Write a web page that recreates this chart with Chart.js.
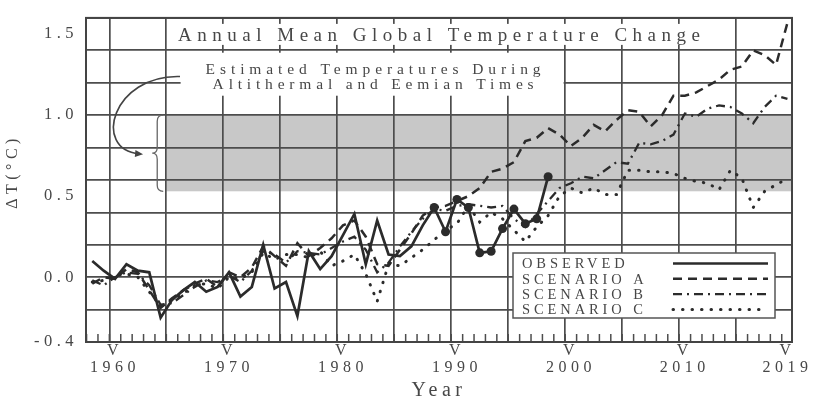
<!DOCTYPE html>
<html>
<head>
<meta charset="utf-8">
<title>Annual Mean Global Temperature Change</title>
<script src="https://cdn.jsdelivr.net/npm/chart.js@4.4.1/dist/chart.umd.min.js"></script>
<style>
  html, body { margin: 0; padding: 0; background: #fff; }
  canvas { display: block; }
</style>
</head>
<body>
<canvas id="chartCanvas" width="819" height="398"></canvas>
<script>
// ------------------------------------------------------------------
// Annual Mean Global Temperature Change - observed vs. scenario A/B/C
// ------------------------------------------------------------------

// DATA
var obsYears = [1958, 1959, 1960, 1961, 1962, 1963, 1964, 1965, 1966, 1967,
                1968, 1969, 1970, 1971, 1972, 1973, 1974, 1975, 1976, 1977,
                1978, 1979, 1980, 1981, 1982, 1983, 1984, 1985, 1986, 1987,
                1988, 1989, 1990, 1991, 1992, 1993, 1994, 1995, 1996, 1997,
                1998]
var observed = [0.10, 0.04, -0.01, 0.08, 0.04, 0.03, -0.25, -0.14, -0.08, -0.03,
                -0.09, -0.06, 0.03, -0.12, -0.06, 0.20, -0.07, -0.03, -0.24, 0.16,
                0.05, 0.13, 0.26, 0.39, 0.08, 0.35, 0.14, 0.13, 0.19, 0.32,
                0.43, 0.28, 0.48, 0.43, 0.15, 0.16, 0.30, 0.42, 0.33, 0.36,
                0.62]
var firstDotYear = 1988   // observed years from here on get a big dot

var scenYears = [1958, 1959, 1960, 1961, 1962, 1963, 1964, 1965, 1966, 1967,
                 1968, 1969, 1970, 1971, 1972, 1973, 1974, 1975, 1976, 1977,
                 1978, 1979, 1980, 1981, 1982, 1983, 1984, 1985, 1986, 1987,
                 1988, 1989, 1990, 1991, 1992, 1993, 1994, 1995, 1996, 1997,
                 1998, 1999, 2000, 2001, 2002, 2003, 2004, 2005, 2006, 2007,
                 2008, 2009, 2010, 2011, 2012, 2013, 2014, 2015, 2016, 2017,
                 2018, 2019]
var scenarioA = [-0.04, 0.00, -0.01, 0.05, 0.03, -0.08, -0.19, -0.13, -0.08, -0.04,
                 -0.01, -0.06, 0.03, 0.00, 0.06, 0.19, 0.13, 0.07, 0.21, 0.13,
                 0.18, 0.24, 0.32, 0.35, 0.25, 0.08, 0.07, 0.17, 0.27, 0.38,
                 0.43, 0.44, 0.47, 0.50, 0.55, 0.65, 0.67, 0.71, 0.84, 0.86,
                 0.92, 0.88, 0.81, 0.86, 0.94, 0.90, 0.97, 1.03, 1.02, 0.93,
                 1.00, 1.12, 1.12, 1.14, 1.18, 1.22, 1.28, 1.30, 1.40, 1.37,
                 1.31, 1.57]
var scenarioB = [-0.02, -0.05, 0.00, 0.03, 0.02, -0.05, -0.17, -0.16, -0.11, -0.06,
                 -0.02, -0.03, 0.01, -0.03, 0.04, 0.16, 0.14, 0.09, 0.16, 0.15,
                 0.14, 0.18, 0.22, 0.25, 0.17, 0.03, 0.09, 0.19, 0.28, 0.36,
                 0.42, 0.41, 0.44, 0.45, 0.44, 0.43, 0.44, 0.36, 0.31, 0.39,
                 0.47, 0.55, 0.58, 0.62, 0.61, 0.66, 0.71, 0.70, 0.83, 0.82,
                 0.84, 0.88, 1.01, 0.99, 1.04, 1.06, 1.05, 1.01, 0.95, 1.05,
                 1.12, 1.10]
var scenarioC = [-0.03, -0.02, 0.01, 0.02, 0.00, -0.09, -0.18, -0.14, -0.10, -0.05,
                 -0.04, -0.07, 0.00, -0.01, 0.03, 0.15, 0.11, 0.14, 0.14, 0.12,
                 0.16, 0.07, 0.10, 0.14, 0.02, -0.15, 0.08, 0.07, 0.12, 0.17,
                 0.23, 0.29, 0.33, 0.44, 0.34, 0.40, 0.36, 0.29, 0.22, 0.31,
                 0.38, 0.50, 0.55, 0.52, 0.55, 0.51, 0.51, 0.66, 0.66, 0.65,
                 0.65, 0.64, 0.61, 0.59, 0.58, 0.54, 0.66, 0.61, 0.43, 0.53,
                 0.57, 0.61]

// shaded range: estimated temperatures during Altithermal and Eemian times
var bandFromYear = 1964.5
var bandLow = 0.53
var bandHigh = 1.0

// AXES
var xLabelYears = [1960, 1970, 1980, 1990, 2000, 2010, 2019]
var xGridYears = [1959.5, 1964.5, 1969.5, 1974.5, 1979.5, 1984.5,
                  1989.5, 1994.5, 1999.5, 2004.5, 2009.5, 2014.5]
var yTickValues = [-0.4, -0.2, 0, 0.2, 0.4, 0.5, 0.6, 0.8, 1.0, 1.2, 1.4, 1.5, 1.6]
var yGridValues = [-0.4, -0.2, 0, 0.2, 0.4, 0.6, 0.8, 1.0, 1.2, 1.4, 1.6]
var yLabelValues = [-0.4, 0, 0.5, 1.0, 1.5]
var yLabelText = ['-0.4', '0.0', '0.5', '1.0', '1.5']

// TEXTS
var mainTitle = 'Annual Mean Global Temperature Change'
var noteLine1 = 'Estimated Temperatures During'
var noteLine2 = 'Altithermal and Eemian Times'

// STYLE
var serif = "'Liberation Serif', 'Times New Roman', serif"
var textColor = '#474747'
var gridColor = '#4d4d4d'
var lineColor = '#2b2b2b'
var noteColor = '#666'

// draws text stretched (by letter spacing) to a given width
function spacedText(ctx, text, left, baseline, width) {
    ctx.letterSpacing = '0px'
    var w = ctx.measureText(text).width
    var s = (width - w) / (text.length - 1)
    ctx.letterSpacing = s + 'px'
    ctx.textAlign = 'left'
    ctx.textBaseline = 'alphabetic'
    ctx.fillText(text, left, baseline)
}

// all chart.js text gets the wide typewriter-like spacing of the original
var spacingPlugin = {
    id: 'spacing',
    beforeUpdate: function (chart) { chart.ctx.letterSpacing = '4.5px' },
    beforeDraw: function (chart) { chart.ctx.letterSpacing = '4.5px' }
}

var decorPlugin = {
    id: 'decor',
    // gray band below the grid
    beforeDraw: function (chart) {
        var ctx = chart.ctx, xs = chart.scales.x, ys = chart.scales.y
        var a = chart.chartArea
        ctx.save()
        ctx.fillStyle = '#c8c8c8'
        var x0 = xs.getPixelForValue(bandFromYear)
        var y0 = ys.getPixelForValue(bandHigh)
        var y1 = ys.getPixelForValue(bandLow)
        ctx.fillRect(x0, y0, a.right - x0, y1 - y0)
        ctx.restore()
    },
    // frame, minor year ticks, title and note boxes over the grid
    beforeDatasetsDraw: function (chart) {
        var ctx = chart.ctx, xs = chart.scales.x, ys = chart.scales.y
        var a = chart.chartArea
        ctx.save()

        // minor ticks, one per year, standing on the bottom edge
        ctx.strokeStyle = gridColor
        ctx.lineWidth = 1.5
        for (var yr = 1957.5; yr < 2019.4; yr += 1) {
            var px = xs.getPixelForValue(yr)
            ctx.beginPath()
            ctx.moveTo(px, a.bottom)
            ctx.lineTo(px, a.bottom - 8)
            ctx.stroke()
        }

        // title with white box
        var cx = (a.left + a.right) / 2
        ctx.fillStyle = '#fff'
        ctx.fillRect(cx - 270, a.top + 6, 540, 21)
        ctx.fillStyle = textColor
        ctx.font = '19px ' + serif
        spacedText(ctx, mainTitle, cx - 261, a.top + 23.5, 522)

        // note with white box
        var nx = xs.getPixelForValue(1982.6)
        var ny = ys.getPixelForValue(1.2556)
        ctx.fillStyle = '#fff'
        ctx.fillRect(nx - 192, ny - 21, 383, 43)
        ctx.fillStyle = textColor
        ctx.font = '15.5px ' + serif
        spacedText(ctx, noteLine1, nx - 167, ny, 335)
        spacedText(ctx, noteLine2, nx - 160, ny + 15.5, 321)

        // frame
        ctx.strokeStyle = '#444'
        ctx.lineWidth = 2
        ctx.strokeRect(a.left, a.top, a.right - a.left, a.bottom - a.top)
        ctx.restore()
    },
    // legend, brace and arrow on top
    afterDatasetsDraw: function (chart) {
        var ctx = chart.ctx, xs = chart.scales.x, ys = chart.scales.y
        var a = chart.chartArea
        ctx.save()

        // legend box
        var bx = a.right - 279, by = a.bottom - 89, bw = 262, bh = 65
        ctx.fillStyle = '#fff'
        ctx.fillRect(bx, by, bw, bh)
        ctx.strokeStyle = '#555'
        ctx.lineWidth = 1.5
        ctx.strokeRect(bx, by, bw, bh)
        ctx.font = '14.5px ' + serif
        chart.data.datasets.forEach(function (ds, i) {
            var rowY = by + 10.5 + i * 15.3
            ctx.fillStyle = textColor
            ctx.letterSpacing = '3.9px'
            ctx.textAlign = 'left'
            ctx.textBaseline = 'middle'
            ctx.fillText(ds.label, bx + 9, rowY + 1)
            ctx.letterSpacing = '0px'
            ctx.strokeStyle = ds.borderColor
            ctx.lineWidth = ds.borderWidth
            ctx.lineCap = ds.borderCapStyle || 'butt'
            ctx.setLineDash(ds.borderDash || [])
            ctx.beginPath()
            ctx.moveTo(bx + 160, rowY)
            ctx.lineTo(bx + 255, rowY)
            ctx.stroke()
            ctx.setLineDash([])
            ctx.lineCap = 'butt'
        })

        // brace in front of the band
        ctx.strokeStyle = noteColor
        ctx.lineWidth = 1.3
        var bxc = xs.getPixelForValue(1963.7)
        var top = ys.getPixelForValue(bandHigh)
        var bot = ys.getPixelForValue(bandLow)
        var mid = ys.getPixelForValue((bandHigh + bandLow) / 2)
        ctx.beginPath()
        ctx.moveTo(bxc + 6, top)
        ctx.quadraticCurveTo(bxc, top, bxc, top + 6)
        ctx.lineTo(bxc, mid - 6)
        ctx.quadraticCurveTo(bxc, mid, bxc - 5, mid)
        ctx.quadraticCurveTo(bxc, mid, bxc, mid + 6)
        ctx.lineTo(bxc, bot - 6)
        ctx.quadraticCurveTo(bxc, bot, bxc + 6, bot)
        ctx.stroke()

        // curved arrow from the note to the brace
        var p0 = [xs.getPixelForValue(1965.70), ys.getPixelForValue(1.238)]
        var c1 = [xs.getPixelForValue(1959.74), ys.getPixelForValue(1.250)]
        var c2 = [xs.getPixelForValue(1957.98), ys.getPixelForValue(0.788)]
        var p3 = [xs.getPixelForValue(1962.46), ys.getPixelForValue(0.758)]
        ctx.strokeStyle = '#444'
        ctx.lineWidth = 1.6
        ctx.beginPath()
        ctx.moveTo(p0[0], p0[1])
        ctx.bezierCurveTo(c1[0], c1[1], c2[0], c2[1], p3[0] - 4, p3[1] - 0.5)
        ctx.stroke()
        var ang = Math.atan2(p3[1] - c2[1], p3[0] - c2[0])
        ctx.fillStyle = '#444'
        ctx.beginPath()
        ctx.moveTo(p3[0], p3[1])
        ctx.lineTo(p3[0] - 8 * Math.cos(ang) + 3.5 * Math.sin(ang), p3[1] - 8 * Math.sin(ang) - 3.5 * Math.cos(ang))
        ctx.lineTo(p3[0] - 8 * Math.cos(ang) - 3.5 * Math.sin(ang), p3[1] - 8 * Math.sin(ang) + 3.5 * Math.cos(ang))
        ctx.closePath()
        ctx.fill()
        ctx.restore()
    }
}

// build the datasets from the arrays
function pairs(xs, ys) {
    return xs.map(function (x, i) { return { x: x, y: ys[i] } })
}

var datasets = [
    {
        label: 'OBSERVED',
        data: pairs(obsYears, observed),
        borderColor: lineColor,
        backgroundColor: lineColor,
        borderWidth: 2.7,
        pointRadius: function (c) { return c.raw && c.raw.x >= firstDotYear ? 4.5 : 0 },
        pointBackgroundColor: lineColor,
        pointBorderWidth: 0
    },
    {
        label: 'SCENARIO A',
        data: pairs(scenYears, scenarioA),
        borderColor: lineColor,
        borderWidth: 2.5,
        borderDash: [9, 6],
        pointRadius: 0
    },
    {
        label: 'SCENARIO B',
        data: pairs(scenYears, scenarioB),
        borderColor: lineColor,
        borderWidth: 2.3,
        borderDash: [9, 5, 2, 5],
        pointRadius: 0
    },
    {
        label: 'SCENARIO C',
        data: pairs(scenYears, scenarioC),
        borderColor: lineColor,
        borderWidth: 3,
        borderDash: [0.5, 9],
        borderCapStyle: 'round',
        pointRadius: 0
    }
]

var myChart = new Chart(document.getElementById('chartCanvas'), {
    type: 'line',
    data: { datasets: datasets },
    plugins: [spacingPlugin, decorPlugin],
    options: {
        responsive: false,
        devicePixelRatio: 1,
        animation: false,
        layout: { padding: { top: 7, right: 27, left: 0, bottom: 0 } },
        elements: { line: { tension: 0 } },
        plugins: { legend: { display: false }, tooltip: { enabled: false } },
        scales: {
            x: {
                type: 'linear',
                min: 1957.45,
                max: 2019.4,
                afterBuildTicks: function (scale) {
                    var vals = xGridYears.concat(xLabelYears).sort(function (a, b) { return a - b })
                    scale.ticks = vals.map(function (v) { return { value: v } })
                },
                afterFit: function (scale) { scale.height = 56 },
                grid: {
                    color: function (c) { return c.tick && xGridYears.includes(c.tick.value) ? gridColor : 'rgba(0,0,0,0)' },
                    lineWidth: 1.7,
                    drawTicks: false
                },
                border: { color: '#444', width: 2 },
                ticks: {
                    autoSkip: false,
                    maxRotation: 0,
                    minRotation: 0,
                    padding: 0,
                    color: textColor,
                    font: { family: serif, size: 16, lineHeight: 1.06 },
                    callback: function (v) { return xLabelYears.includes(v) ? ['V', String(v)] : '' }
                },
                title: {
                    display: true,
                    text: 'Year',
                    color: textColor,
                    font: { family: serif, size: 20, lineHeight: 0.7 },
                    padding: { top: 0, bottom: 0 }
                }
            },
            y: {
                min: -0.4,
                max: 1.6,
                afterBuildTicks: function (scale) {
                    scale.ticks = yTickValues.map(function (v) { return { value: v } })
                },
                afterFit: function (scale) { scale.width = 86 },
                grid: {
                    color: function (c) { return c.tick && yGridValues.includes(c.tick.value) ? gridColor : 'rgba(0,0,0,0)' },
                    lineWidth: 1.7,
                    drawTicks: false
                },
                border: { color: '#444', width: 2 },
                ticks: {
                    padding: 8,
                    color: textColor,
                    font: { family: serif, size: 16.5 },
                    callback: function (v) {
                        var i = yLabelValues.indexOf(v)
                        return i >= 0 ? yLabelText[i] : ''
                    }
                },
                title: {
                    display: true,
                    text: '  \u0394T(\u00B0C)',
                    color: textColor,
                    font: { family: serif, size: 16, lineHeight: 1 },
                    padding: { top: 5, bottom: 0 }
                }
            }
        }
    }
})
</script>
</body>
</html>
